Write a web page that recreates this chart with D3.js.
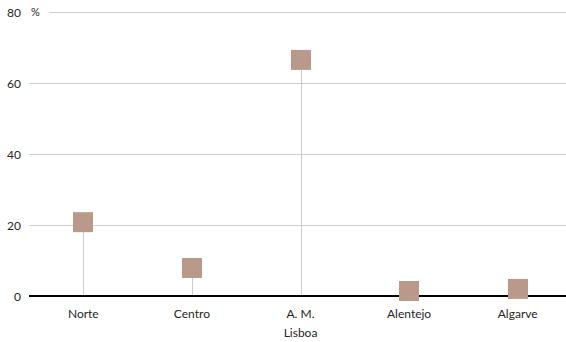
<!DOCTYPE html>
<html>
<head>
<meta charset="utf-8">
<script src="https://cdn.jsdelivr.net/npm/d3@7"></script>
<style>
  body { margin: 0; background: #fff; }
  text { font-family: Lato, "Open Sans", sans-serif; fill: #262626; }
</style>
</head>
<body>
<script>
const regions = ["Norte", "Centro", "A. M.|Lisboa", "Alentejo", "Algarve"];
const shares = [20.8, 7.9, 66.5, 1.4, 2.0];
const yTicks = [0, 20, 40, 60, 80];

const w = 566;
const h = 342;
const padLeft = 29;
const padRight = 572;
const padTop = 12;
const padBottom = 296;

const svg = d3.select("body")
  .append("svg")
  .attr("width", w)
  .attr("height", h);

const xScale = d3.scaleBand()
  .domain(regions)
  .range([padLeft, padRight]);

const yScale = d3.scaleLinear()
  .domain([0, 80])
  .range([padBottom, padTop]);

// gridlines
svg.selectAll("line.grid")
  .data(yTicks.filter(d => d > 0))
  .enter()
  .append("line")
  .attr("class", "grid")
  .attr("x1", d => d === 80 ? 49 : padLeft)
  .attr("x2", w)
  .attr("y1", d => yScale(d) + 0.5)
  .attr("y2", d => yScale(d) + 0.5)
  .attr("stroke", "#d0d0d0")
  .attr("stroke-width", 1);

// y labels
const yAxis = d3.axisLeft(yScale).tickValues(yTicks).tickSize(0).tickPadding(0);
const gy = svg.append("g")
  .attr("transform", "translate(21,0)")
  .call(yAxis);
gy.select(".domain").remove();
gy.selectAll("text")
  .style("font-size", "12px")
  .attr("dy", "0.35em");

svg.append("text")
  .attr("x", 31)
  .attr("y", yScale(80))
  .attr("dy", "0.35em")
  .style("font-size", "11px")
  .text("%");

// drop lines
svg.selectAll("line.drop")
  .data(shares)
  .enter()
  .append("line")
  .attr("class", "drop")
  .attr("x1", (d, i) => Math.round(xScale(regions[i]) + xScale.bandwidth() / 2) + 0.5)
  .attr("x2", (d, i) => Math.round(xScale(regions[i]) + xScale.bandwidth() / 2) + 0.5)
  .attr("y1", d => yScale(d))
  .attr("y2", yScale(0))
  .attr("stroke", "#cccccc")
  .attr("stroke-width", 1);

// zero line
svg.append("line")
  .attr("x1", padLeft)
  .attr("x2", w)
  .attr("y1", yScale(0))
  .attr("y2", yScale(0))
  .attr("stroke", "#000")
  .attr("stroke-width", 2);

// markers
svg.selectAll("rect")
  .data(shares)
  .enter()
  .append("rect")
  .attr("x", (d, i) => Math.round(xScale(regions[i]) + xScale.bandwidth() / 2) - 10)
  .attr("y", d => yScale(d) - 10)
  .attr("width", 20)
  .attr("height", 20)
  .attr("fill", "#b9998a");

// x labels
const xAxis = d3.axisBottom(xScale).tickSize(0).tickPadding(0).tickFormat("");
const gx = svg.append("g")
  .attr("transform", "translate(0," + padBottom + ")")
  .call(xAxis);
gx.select(".domain").remove();
gx.selectAll(".tick").each(function(d) {
  const t = d3.select(this).append("text")
    .attr("text-anchor", "middle")
    .style("font-size", "12px");
  d.split("|").forEach((s, k) => {
    t.append("tspan")
      .attr("x", 0)
      .attr("y", 22 + k * 19)
      .text(s);
  });
});
</script>
</body>
</html>
